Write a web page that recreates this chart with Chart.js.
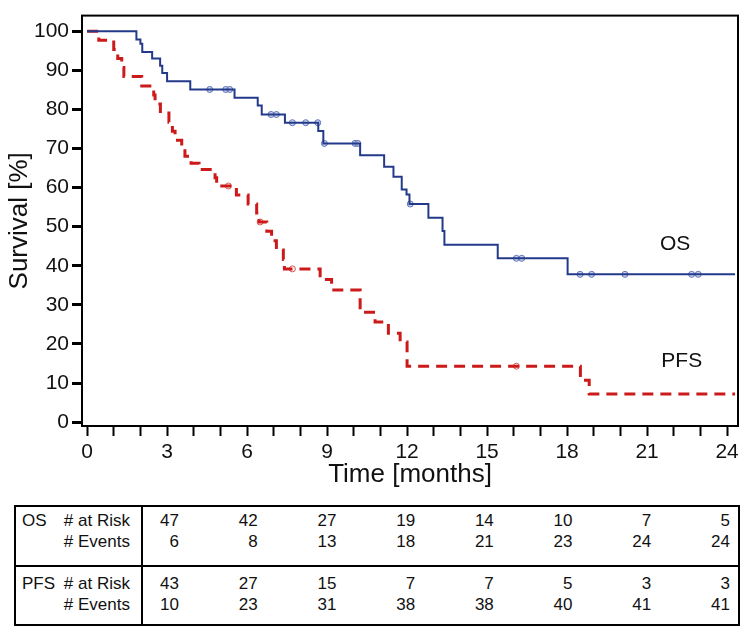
<!DOCTYPE html>
<html>
<head>
<meta charset="utf-8">
<script src="https://cdn.jsdelivr.net/npm/chart.js@4.4.1/dist/chart.umd.min.js"></script>
<style>
  body { margin: 0; background: #fff; font-family: "Liberation Sans", Arial, sans-serif; }
  #wrap { position: relative; width: 750px; height: 636px; }
  #km { position: absolute; left: 0; top: 0; }
  .box { position: absolute; left: 14px; top: 505px; width: 726px; height: 121px; border: 2px solid #000; box-sizing: border-box; }
  .hline { position: absolute; left: 14px; top: 565px; width: 726px; height: 2px; background: #000; }
  .vline { position: absolute; left: 141px; top: 505px; width: 2px; height: 121px; background: #000; }
  .t { position: absolute; font-size: 17px; line-height: 18px; height: 18px; color: #111; white-space: nowrap; }
</style>
</head>
<body>
<div id="wrap">
  <canvas id="km" width="750" height="490"></canvas>
  <div class="box"></div>
  <div class="hline"></div>
  <div class="vline"></div>
  <div id="risk"></div>
</div>
<script>
/* ============== Daten ===========*/

const osTime = [0, 1.85, 2.0, 2.07, 2.44, 2.74, 2.82, 3.0, 3.87, 5.53, 6.4, 6.55, 7.42, 8.67, 8.86, 10.24, 11.14, 11.49, 11.8, 11.98, 12.09, 12.8, 13.33, 13.4, 15.4, 18.02, 24.3];
const osSurv = [100, 97.9, 96.8, 94.7, 93.0, 91.2, 89.3, 87.2, 85.1, 83.0, 81.0, 78.7, 76.6, 74.5, 71.3, 68.3, 65.3, 62.8, 59.5, 58.2, 55.8, 52.3, 48.9, 45.4, 41.9, 37.8, 37.8];

const pfsTime = [0, 0.44, 1.0, 1.15, 1.3, 1.38, 2.05, 2.5, 2.55, 2.75, 3.07, 3.2, 3.3, 3.55, 3.67, 3.9, 4.2, 4.8, 4.86, 5.6, 6.04, 6.36, 6.45, 6.74, 6.92, 7.1, 7.36, 7.4, 8.74, 9.17, 10.24, 10.8, 11.3, 11.74, 12.0, 18.5, 18.83, 24.3];
const pfsSurv = [100, 97.7, 95.3, 93.0, 90.7, 88.4, 86.0, 83.7, 81.4, 79.1, 76.7, 74.4, 72.1, 69.8, 68.0, 66.2, 64.6, 62.5, 60.4, 58.1, 55.8, 53.5, 51.2, 48.8, 46.4, 44.0, 41.6, 39.2, 36.5, 33.8, 28.1, 25.6, 22.7, 20.5, 14.3, 10.7, 7.2, 7.2];

const osCensor = [4.6, 5.2, 5.35, 6.9, 7.1, 7.7, 8.2, 8.65, 8.9, 10.05, 10.15, 12.12, 16.1, 16.3, 18.49, 18.92, 20.17, 22.67, 22.92];
const pfsCensor = [5.3, 6.49, 7.7, 16.1];

const xTicks = [0, 1, 2, 3, 4, 5, 6, 7, 8, 9, 10, 11, 12, 13, 14, 15, 16, 17, 18, 19, 20, 21, 22, 23, 24];
const xLabelEvery = 3;
const yTicks = [0, 10, 20, 30, 40, 50, 60, 70, 80, 90, 100];

const osAtRisk = [47, 42, 27, 19, 14, 10, 7, 5];
const osEvents = [6, 8, 13, 18, 21, 23, 24, 24];
const pfsAtRisk = [43, 27, 15, 7, 7, 5, 3, 3];
const pfsEvents = [10, 23, 31, 38, 38, 40, 41, 41];

/* ============== Hilfsfunktionen ===========*/

function toPoints(times, vals) {
  return times.map((t, i) => ({ x: t, y: vals[i] }));
}

// survival value of the step curve at time t
function survAt(times, vals, t) {
  let v = vals[0];
  for (let i = 0; i < times.length; i++) {
    if (times[i] <= t) v = vals[i];
  }
  return v;
}

const osColor = '#233a8a';
const pfsColor = '#cc1a1a';

const frame = {
  id: 'frame',
  afterDatasetsDraw(chart) {
    const { ctx, chartArea: a, scales } = chart;
    ctx.save();
    ctx.strokeStyle = '#000';
    ctx.lineWidth = 2;
    ctx.strokeRect(a.left, a.top, a.right - a.left, a.bottom - a.top);
    ctx.fillStyle = '#111';
    ctx.font = '21px "Liberation Sans", Arial, sans-serif';
    ctx.textAlign = 'center';
    ctx.textBaseline = 'middle';
    ctx.fillText('OS', scales.x.getPixelForValue(22.05), scales.y.getPixelForValue(45.5));
    ctx.fillText('PFS', scales.x.getPixelForValue(22.3), scales.y.getPixelForValue(15.5));
    ctx.restore();
  }
};

/* ============== Chart ===========*/

const graf = document.getElementById('km');

const data = {
  datasets: [
    {
      label: 'OS',
      data: toPoints(osTime, osSurv),
      stepped: 'before',
      borderColor: osColor,
      borderWidth: 2,
      pointRadius: 0,
      fill: false
    },
    {
      label: 'PFS',
      data: toPoints(pfsTime, pfsSurv),
      stepped: 'before',
      borderColor: pfsColor,
      borderWidth: 3,
      borderDash: [11, 7],
      pointRadius: 0,
      fill: false
    },
    {
      label: 'OS censored',
      data: osCensor.map(t => ({ x: t, y: survAt(osTime, osSurv, t) })),
      showLine: false,
      pointStyle: 'circle',
      pointRadius: 3,
      pointBorderWidth: 1,
      pointBorderColor: '#5d72b8',
      pointBackgroundColor: 'rgba(170,185,225,0.6)'
    },
    {
      label: 'PFS censored',
      data: pfsCensor.map(t => ({ x: t, y: survAt(pfsTime, pfsSurv, t) })),
      showLine: false,
      pointStyle: 'circle',
      pointRadius: 3,
      pointBorderWidth: 1,
      pointBorderColor: '#d65a5a',
      pointBackgroundColor: 'rgba(255,230,230,0.8)'
    }
  ]
};

const config = {
  type: 'line',
  data,
  options: {
    responsive: false,
    animation: false,
    layout: { padding: { top: 8, right: 12, left: 0, bottom: 0 } },
    plugins: { legend: { display: false }, tooltip: { enabled: false } },
    scales: {
      x: {
        type: 'linear',
        min: -0.19,
        max: 24.41,
        afterBuildTicks: s => { s.ticks = xTicks.map(v => ({ value: v })); },
        afterFit: s => { s.height = 64; },
        border: { display: false },
        grid: { drawOnChartArea: false, drawTicks: true, tickLength: 10, tickWidth: 2, tickColor: '#000' },
        ticks: {
          autoSkip: false,
          maxRotation: 0,
          padding: 4,
          color: '#111',
          font: { size: 21, family: '"Liberation Sans", Arial, sans-serif' },
          callback: v => (v % xLabelEvery === 0 ? String(v) : '')
        },
        title: {
          display: true,
          text: 'Time [months]',
          color: '#111',
          padding: { top: 0, bottom: 0 },
          font: { size: 26, family: '"Liberation Sans", Arial, sans-serif' }
        }
      },
      y: {
        min: -1,
        max: 104,
        afterBuildTicks: s => { s.ticks = yTicks.map(v => ({ value: v })); },
        afterFit: s => { s.width = 82; },
        border: { display: false },
        grid: { drawOnChartArea: false, drawTicks: true, tickLength: 10, tickWidth: 3, tickColor: '#000' },
        ticks: {
          padding: 3,
          color: '#111',
          font: { size: 21, family: '"Liberation Sans", Arial, sans-serif' }
        },
        title: {
          display: true,
          text: 'Survival [%]',
          color: '#111',
          padding: { top: 4, bottom: 0 },
          font: { size: 26, family: '"Liberation Sans", Arial, sans-serif' }
        }
      }
    }
  },
  plugins: [frame]
};

const myChart = new Chart(graf, config);

/* ============== Tabelle ===========*/

const risk = document.getElementById('risk');
const rowY = [521, 542, 584, 605];
const rows = [osAtRisk, osEvents, pfsAtRisk, pfsEvents];

function addText(txt, x, y, align) {
  const s = document.createElement('span');
  s.className = 't';
  s.textContent = txt;
  s.style.top = (y - 9) + 'px';
  if (align === 'right') {
    s.style.right = (750 - x) + 'px';
  } else {
    s.style.left = x + 'px';
  }
  risk.appendChild(s);
}

addText('OS', 22, rowY[0]);
addText('PFS', 22, rowY[2]);
addText('# at Risk', 130, rowY[0], 'right');
addText('# Events', 130, rowY[1], 'right');
addText('# at Risk', 130, rowY[2], 'right');
addText('# Events', 130, rowY[3], 'right');

rows.forEach((vals, r) => {
  vals.forEach((v, i) => {
    addText(String(v), 179 + i * 78.7, rowY[r], 'right');
  });
});
</script>
</body>
</html>
